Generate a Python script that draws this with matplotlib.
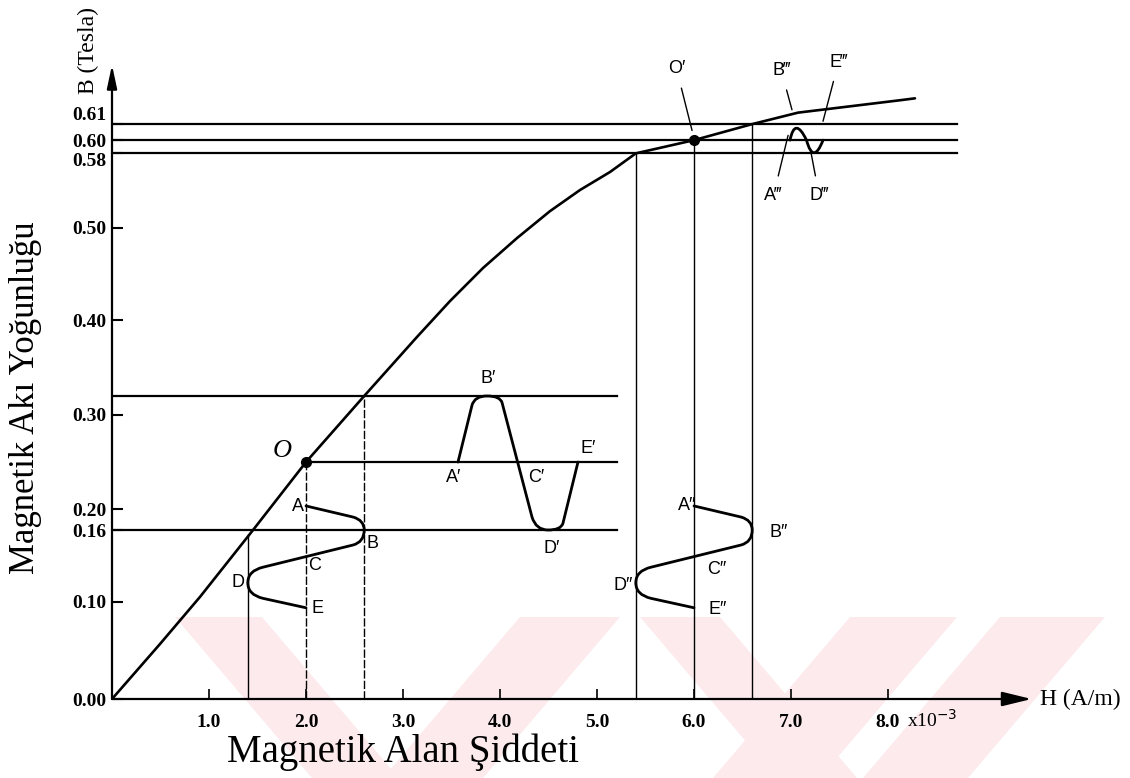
import numpy as np
import matplotlib
matplotlib.use("Agg")
import matplotlib.pyplot as plt
from matplotlib.path import Path
from matplotlib.patches import PathPatch, Polygon

# ------------------------------------------------------------------ data
# B axis: tick values and where the (slightly uneven) original drawing puts them
b_ticks = [0.00, 0.10, 0.16, 0.20, 0.30, 0.40, 0.50, 0.58, 0.60, 0.61]
b_tick_labels = ["0.00", "0.10", "0.16", "0.20", "0.30", "0.40", "0.50", "0.58", "0.60", "0.61"]
b_drawn_at = [0.000, 0.1028, 0.179, 0.201, 0.301, 0.401, 0.499, 0.578, 0.592, 0.609]

h_ticks = [1, 2, 3, 4, 5, 6, 7, 8]
h_tick_labels = ["1.0", "2.0", "3.0", "4.0", "5.0", "6.0", "7.0", "8.0"]

# magnetisation curve B(H)
curve_H = [0.0, 0.495, 0.907, 1.454, 2.0, 2.6, 3.144, 3.485, 3.825, 4.175, 4.515, 4.825,
           5.134, 5.4, 6.0, 6.6, 7.072, 8.124, 8.278]
curve_B = [0.0, 0.0567, 0.1042, 0.16, 0.25, 0.32, 0.3825, 0.421, 0.4567, 0.489, 0.518, 0.5407,
           0.560, 0.58, 0.60, 0.61, 0.622, 0.635, 0.637]

# operating points O and O'
op_H = [2.0, 6.0]
op_B = [0.25, 0.60]

# reference levels (B) and the H range they are drawn over
low_levels = [0.16, 0.32]
low_level_end = 5.21
o_level = 0.25
top_levels = [0.58, 0.60, 0.61]
top_level_end = 8.71

# vertical projection lines
vert_H_solid = [1.4, 5.4, 6.0, 6.6]
vert_B_solid = [0.156, 0.58, 0.60, 0.61]
vert_H_dash = [2.0, 2.6]
vert_B_dash = [0.25, 0.32]

# field-intensity waveforms (time runs downward, drawn on the B axis)
hw_time = [0.2035, 0.185, 0.179, 0.16, 0.150, 0.1475, 0.129, 0.126, 0.116, 0.106, 0.103, 0.094]
hw_H_left = [2.0, 2.485, 2.6, 2.6, 2.6, 2.485, 1.557, 1.4, 1.4, 1.4, 1.557, 2.0]
hw_H_right = [6.0, 6.485, 6.6, 6.6, 6.6, 6.485, 5.557, 5.4, 5.4, 5.4, 5.557, 6.0]
hw_codes = ["M", "L", "Q", "Q", "Q", "Q", "L", "Q", "Q", "Q", "Q", "L"]

# flux-density waveform around O (time runs along H)
bw_time = [3.567, 3.711, 3.737, 3.866, 4.0, 4.021, 4.330, 4.371, 4.495, 4.629, 4.649, 4.804]
bw_B = [0.25, 0.31, 0.32, 0.32, 0.32, 0.313, 0.185, 0.16, 0.16, 0.16, 0.173, 0.25]
bw_codes = ["M", "L", "Q", "Q", "Q", "Q", "L", "Q", "Q", "Q", "Q", "L"]

# flux-density waveform around O' (saturated region)
tw_time = [6.99, 7.04, 7.16, 7.23, 7.33]
tw_B = [0.60, 0.6185, 0.60, 0.567, 0.60]
tw_codes = ["M", "Q", "Q", "Q", "Q"]

# point labels: text, H, B
point_labels = [
    ("A", 1.92, 0.2025), ("B", 2.69, 0.149), ("C", 2.09, 0.130), ("D", 1.30, 0.116), ("E", 2.12, 0.093),
    ("A\u2032", 3.52, 0.234), ("B\u2032", 3.88, 0.338), ("C\u2032", 4.37, 0.234), ("D\u2032", 4.53, 0.145),
    ("E\u2032", 4.91, 0.264),
    ("A\u2033", 5.93, 0.2045), ("B\u2033", 6.87, 0.158), ("C\u2033", 6.23, 0.127), ("D\u2033", 5.27, 0.114),
    ("E\u2033", 6.24, 0.092),
]
# labels with leader lines: text, label (H, B), target (H, B)
leader_labels = [
    ("O\u2032", (5.82, 0.668), (5.98, 0.606)),
    ("B\u2034", (6.90, 0.666), (7.01, 0.625)),
    ("E\u2034", (7.49, 0.675), (7.33, 0.613)),
    ("A\u2034", (6.82, 0.535), (6.97, 0.603)),
    ("D\u2034", (7.29, 0.535), (7.20, 0.586)),
]

# ------------------------------------------------------------------ scale
knot_B = [-1.0] + b_ticks + [0.70, 2.0]
knot_P = [-1.0] + b_drawn_at + [0.70, 2.0]


def fwd(b):
    return np.interp(b, knot_B, knot_P)


def inv(p):
    return np.interp(p, knot_P, knot_B)


plt.rcParams["font.family"] = ["Liberation Serif", "DejaVu Serif"]
SANS = ["Liberation Sans", "DejaVu Sans"]

W, H = 1130, 778
fig = plt.figure(figsize=(W / 100, H / 100), dpi=100)

# faint pink watermark stripes of the scanned page (background decoration, pixel polygons)
wm_bands = [
    [(175, 617), (262, 617), (399, 778), (312, 778)],
    [(520, 617), (620, 617), (483, 778), (383, 778)],
    [(640, 617), (720, 617), (857, 778), (777, 778)],
    [(850, 617), (957, 617), (820, 778), (713, 778)],
    [(1000, 617), (1105, 617), (968, 778), (863, 778)],
]
for band in wm_bands:
    fig.patches.append(Polygon([(x / W, 1 - y / H) for x, y in band], closed=True,
                               transform=fig.transFigure, facecolor="#fdeaed",
                               edgecolor="none", zorder=-5))

ax = fig.add_axes([112 / W, 79 / H, 1008.8 / W, 660.8 / H])
ax.set_zorder(1)
ax.patch.set_alpha(0)
ax.set_yscale("function", functions=(fwd, inv))
ax.set_xlim(0, 10.4)
ax.set_ylim(0, 0.70)
for s in ax.spines.values():
    s.set_visible(False)

# axes with arrows
ax.annotate("", xy=(9.48, 0), xytext=(0, 0), annotation_clip=False,
            arrowprops=dict(arrowstyle="-|>,head_length=0.9,head_width=0.22", lw=1.6,
                            color="black", mutation_scale=20, shrinkA=0, shrinkB=0))
ax.annotate("", xy=(0, 0.672), xytext=(0, 0), annotation_clip=False,
            arrowprops=dict(arrowstyle="-|>,head_length=0.7,head_width=0.15", lw=1.6,
                            color="black", mutation_scale=20, shrinkA=0, shrinkB=0))

ax.set_xticks(h_ticks)
ax.set_xticklabels(h_tick_labels)
ax.set_yticks(b_ticks)
ax.set_yticklabels(b_tick_labels)
ax.tick_params(axis="x", direction="in", length=7, width=1.2, pad=11, labelsize=14)
ax.tick_params(axis="y", direction="in", length=8, width=1.5, pad=4, labelsize=14)
ax.minorticks_off()
for lab in ax.get_xticklabels() + ax.get_yticklabels():
    lab.set_fontweight("bold")
ylabs = ax.get_yticklabels()
ylabs[b_ticks.index(0.58)].set_va("top")
ylabs[b_ticks.index(0.61)].set_va("bottom")

# reference lines
for lv in low_levels:
    ax.plot([0, low_level_end], [lv, lv], color="black", lw=1.6)
ax.plot([op_H[0], low_level_end], [o_level, o_level], color="black", lw=1.6)
for lv in top_levels:
    ax.plot([0, top_level_end], [lv, lv], color="black", lw=1.6)
for h, b in zip(vert_H_solid, vert_B_solid):
    ax.plot([h, h], [0, b], color="black", lw=1.0)
for h, b in zip(vert_H_dash, vert_B_dash):
    ax.plot([h, h], [0, b], color="black", lw=1.0, ls=(0, (6, 1.5)))

# curve and operating points
ax.plot(curve_H, curve_B, color="black", lw=1.9, solid_capstyle="round", solid_joinstyle="round")
ax.plot(op_H, op_B, "o", color="black", ms=7)

code_map = {"M": Path.MOVETO, "L": Path.LINETO, "Q": Path.CURVE3}


def draw_path(xs, ys, codes):
    p = Path(np.column_stack([xs, ys]), [code_map[c] for c in codes])
    ax.add_patch(PathPatch(p, fill=False, lw=2.0, edgecolor="black", capstyle="round",
                           joinstyle="round"))


draw_path(hw_H_left, hw_time, hw_codes)
draw_path(hw_H_right, hw_time, hw_codes)
draw_path(bw_time, bw_B, bw_codes)
draw_path(tw_time, tw_B, tw_codes)

for t, h, b in point_labels:
    ax.text(h, b, t, family=SANS, fontsize=13, ha="center", va="center")
for t, (lh, lb), (th, tb) in leader_labels:
    ax.annotate(t, xy=(th, tb), xytext=(lh, lb), family=SANS, fontsize=13,
                ha="center", va="center",
                arrowprops=dict(arrowstyle="-", lw=1.0, color="black", shrinkA=6, shrinkB=0))

ax.text(1.75, 0.262, "O", fontsize=19, style="italic", ha="center", va="center")

# axis titles
ax.text(9.57, 0, "H (A/m)", fontsize=17, ha="left", va="center")
ax.text(8.2, -0.022, r"x10$^{-3}$", fontsize=14, ha="left", va="center")
fig.text(403 / W, 1 - 752 / H, "Magnetik Alan Şiddeti", fontsize=28, ha="center", va="center")
fig.text(26 / W, 1 - 398 / H, "Magnetik Akı Yoğunluğu", fontsize=25, rotation=90,
         ha="center", va="center")
fig.text(88 / W, 1 - 51 / H, "B (Tesla)", fontsize=17, rotation=90, ha="center", va="center")

fig.savefig("out.png", dpi=100)
